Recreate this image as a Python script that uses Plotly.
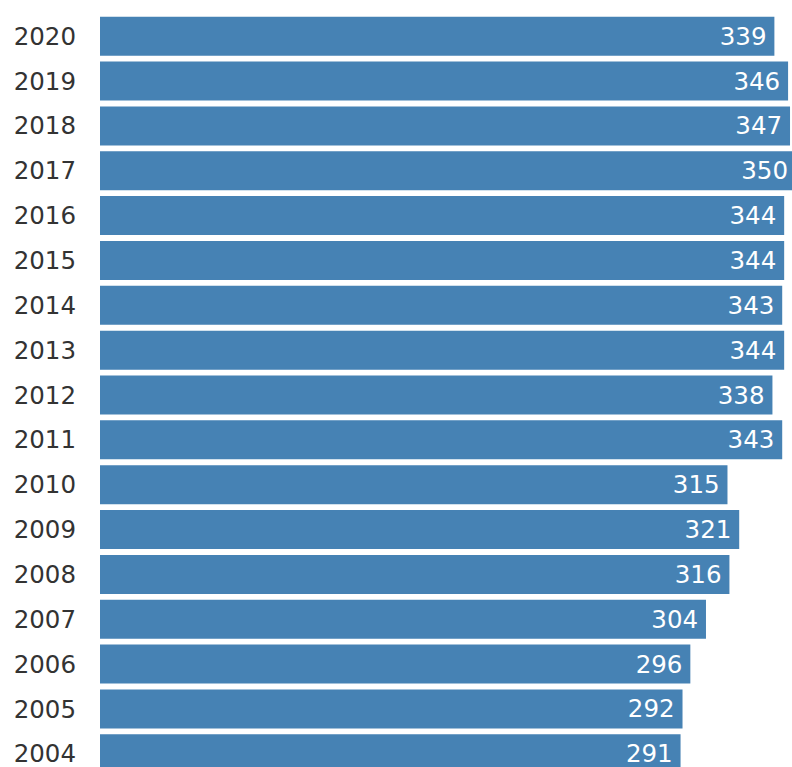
import plotly.graph_objects as go

years = [2004, 2005, 2006, 2007, 2008, 2009, 2010, 2011, 2012, 2013, 2014, 2015, 2016, 2017, 2018, 2019, 2020]
values = [291, 292, 296, 304, 316, 321, 315, 343, 338, 344, 343, 344, 344, 350, 347, 346, 339]

labels = [f"{v}\u2009" for v in values]

X_MIN = -6.0
X_MAX = 352.1

fig = go.Figure(
    go.Bar(
        x=[v - X_MIN for v in values],
        base=X_MIN,
        y=years,
        orientation="h",
        width=0.87,
        marker=dict(color="#4682B4", line=dict(width=0)),
        text=labels,
        textposition="inside",
        insidetextanchor="end",
        textangle=0,
        textfont=dict(family="DejaVu Sans", size=24.5, color="white"),
        hoverinfo="skip",
        cliponaxis=True,
    )
)

fig.update_layout(
    width=800,
    height=767,
    margin=dict(l=100, r=0, t=0, b=0),
    paper_bgcolor="white",
    plot_bgcolor="white",
    showlegend=False,
    xaxis=dict(visible=False, range=[X_MIN, X_MAX], fixedrange=True),
    yaxis=dict(
        range=[2003.706, 2020.807],
        tickmode="array",
        tickvals=years,
        ticktext=[str(y) for y in years],
        showgrid=False,
        zeroline=False,
        showline=False,
        ticks="",
        ticklabelstandoff=23,
        ticklabeloverflow="allow",
        tickfont=dict(family="DejaVu Sans", size=24.5, color="#333333"),
        fixedrange=True,
    ),
)

fig.write_html(
    "out.html",
    config={"displayModeBar": False},
    post_script="document.body.style.margin='0';document.body.style.overflow='hidden';",
)
